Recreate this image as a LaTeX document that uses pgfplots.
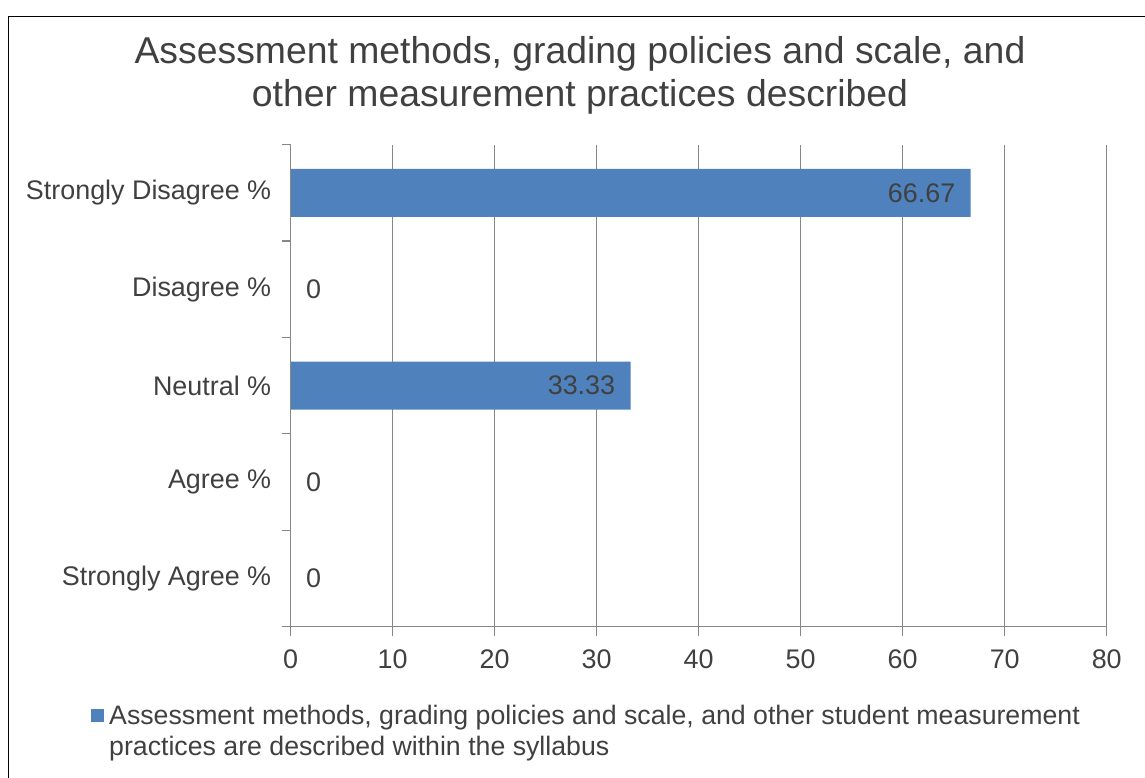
\documentclass[border=0pt]{standalone}
\usepackage{pgfplots}
\pgfplotsset{compat=1.18}
\usepackage{fontspec}
\setmainfont{Liberation Sans}
\definecolor{barblue}{HTML}{4F81BD}
\definecolor{txt}{HTML}{404040}
\definecolor{gridgray}{HTML}{878787}

\begin{document}
\begin{tikzpicture}[x=1bp,y=1bp]
\path[use as bounding box] (0,0) rectangle (1145,-778);
% chart frame (right and bottom edges lie outside the crop)
\draw[black, line width=1.2bp] (8.5,-790) -- (8.5,-16.5) -- (1160,-16.5);

\node[text=txt, font=\fontsize{37.5}{43}\selectfont, align=center] at (580,-75)
  {Assessment methods, grading policies and scale, and\\other measurement practices described};

\begin{axis}[
    name=ax,
    at={(285,-650)}, anchor=south west,
    scale only axis, width=816bp, height=482bp,
    xbar, bar width=48bp,
    xmin=0, xmax=80, ymin=-0.5, ymax=4.5,
    xtick={0,10,...,80},
    ytick={-0.5,0.5,...,4.5},
    yticklabel=\empty,
    extra y ticks={0,1,2,3,4},
    extra y tick labels={Strongly Agree \%, Agree \%, Neutral \%, Disagree \%, Strongly Disagree \%},
    extra y tick style={major tick length=0pt},
    axis x line*=bottom, axis y line*=left,
    axis line style={gridgray, line width=1.2bp, -},
    xmajorgrids, grid style={gridgray, line width=1.2bp},
    tick style={gridgray, line width=1.2bp},
    tick align=outside,
    major tick length=9bp,
    ticklabel style={text=txt, font=\fontsize{27}{30}\selectfont},
    xticklabel style={yshift=-11bp},
    yticklabel style={xshift=-16bp},
    /pgf/number format/assume math mode=true,
    clip=false,
]
\addplot[fill=barblue, draw=none] coordinates {
    (0,0) (0,1) (33.33,2) (0,3) (66.67,4)
};
\node[anchor=east, xshift=-12bp, text=txt, font=\fontsize{27}{30}\selectfont] at (axis cs:66.67,4) {66.67};
\node[anchor=east, xshift=-12bp, text=txt, font=\fontsize{27}{30}\selectfont] at (axis cs:33.33,2) {33.33};
\node[anchor=west, xshift=12bp, text=txt, font=\fontsize{27}{30}\selectfont] at (axis cs:0,3) {0};
\node[anchor=west, xshift=12bp, text=txt, font=\fontsize{27}{30}\selectfont] at (axis cs:0,1) {0};
\node[anchor=west, xshift=12bp, text=txt, font=\fontsize{27}{30}\selectfont] at (axis cs:0,0) {0};
\end{axis}
% y axis line, drawn on top of the axis
\draw[gridgray, line width=1.4bp] (ax.south west) -- (ax.north west);

% legend
\fill[barblue] (91,-709) rectangle (104,-722);
\node[anchor=north west, text=txt, font=\fontsize{26.8}{31}\selectfont, align=left, inner sep=0pt] at (109,-705)
  {Assessment methods, grading policies and scale, and other student measurement\\practices are described within the syllabus};
\end{tikzpicture}
\end{document}
